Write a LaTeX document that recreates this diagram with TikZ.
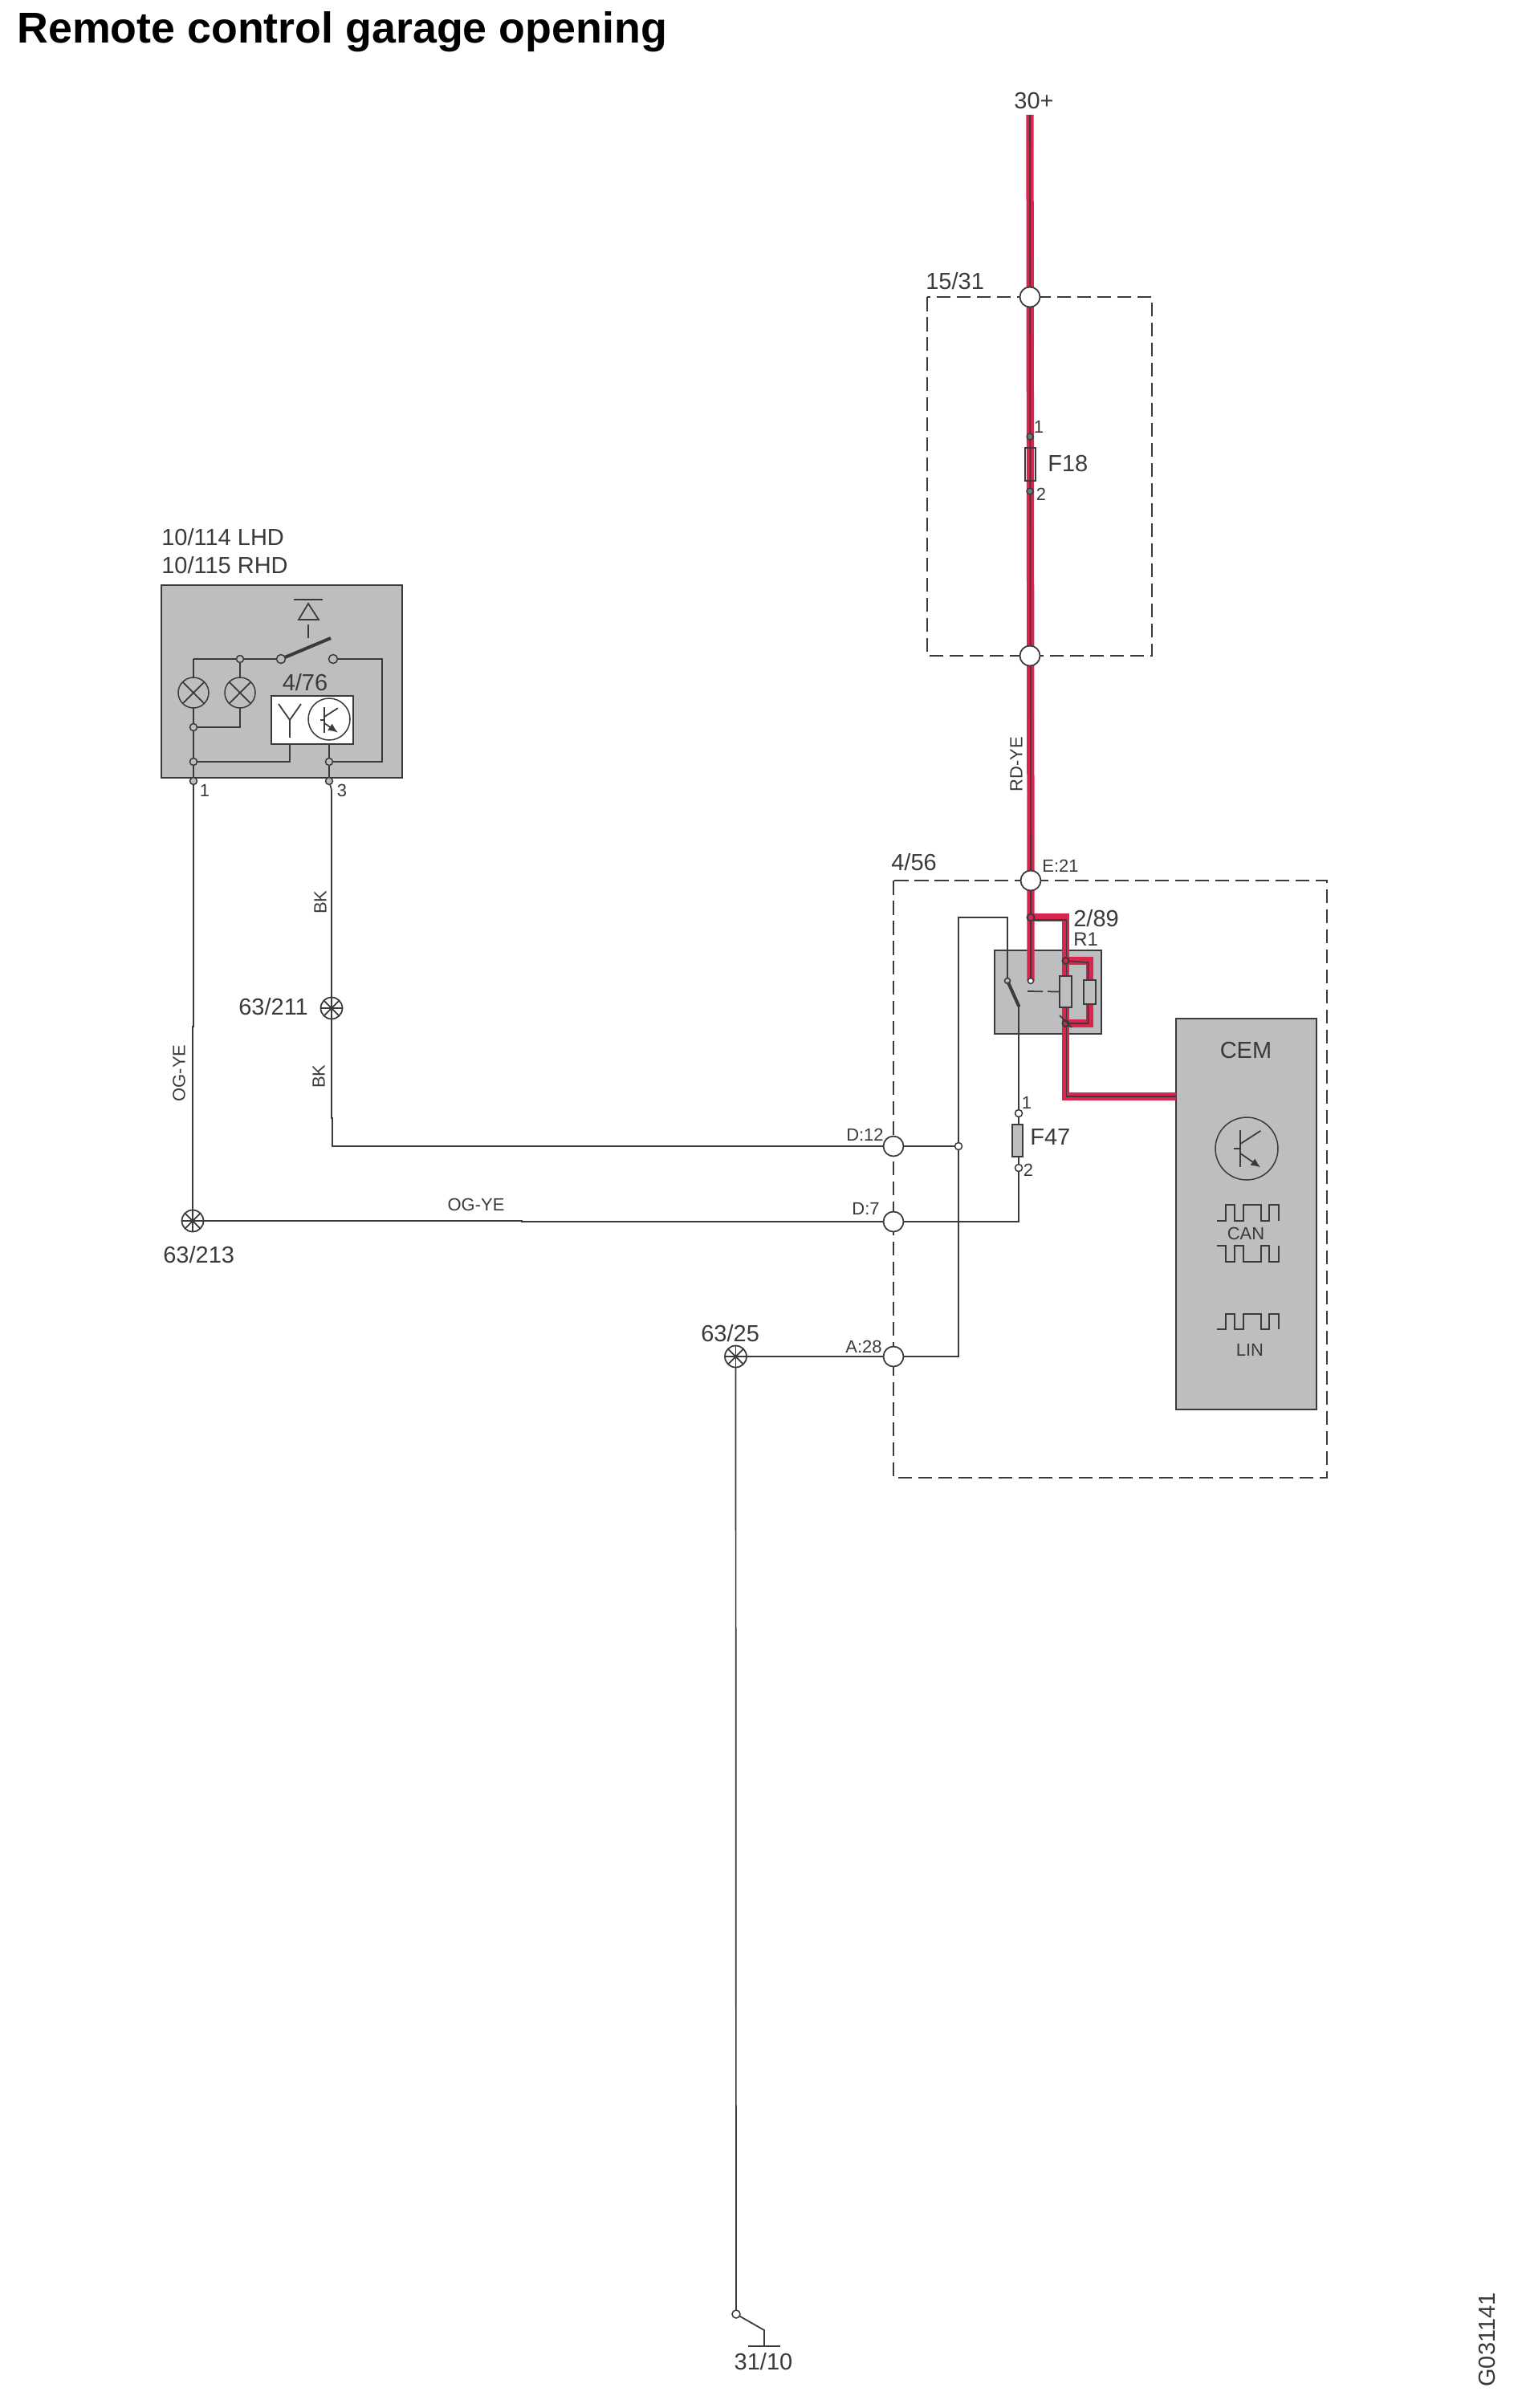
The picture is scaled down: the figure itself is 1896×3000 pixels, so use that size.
\documentclass[tikz,border=0pt]{standalone}
\usepackage{fontspec}
\setmainfont{Liberation Sans}
\usetikzlibrary{arrows.meta}
\definecolor{ink}{HTML}{3A3A3C}
\definecolor{boxgray}{HTML}{BCBEC0}
\definecolor{wirered}{HTML}{D8264F}
\pgfdeclarelayer{back}
\pgfdeclarelayer{wires}
\pgfsetlayers{back,wires,main}
\tikzset{
  wire/.style={draw=ink,line width=0.035cm},
  redwire/.style={draw=wirered,line width=0.185cm},
  corewire/.style={draw=ink,line width=0.032cm},
  thinwire/.style={draw=ink,line width=0.034cm},
  dashbox/.style={draw=ink,line width=0.038cm,dash pattern=on 0.35cm off 0.15cm},
  graybox/.style={draw=ink,fill=boxgray,line width=0.04cm,inner sep=0pt,outer sep=0pt},
  whitebox/.style={draw=ink,fill=white,line width=0.04cm,inner sep=0pt,outer sep=0pt},
  port/.style={circle,draw=ink,fill=white,line width=0.035cm,minimum size=0.5cm,inner sep=0pt,outer sep=0pt},
  pin/.style={circle,draw=ink,fill=white,line width=0.03cm,minimum size=0.18cm,inner sep=0pt,outer sep=0pt},
  tap/.style={circle,draw=ink,fill=boxgray,line width=0.03cm,minimum size=0.18cm,inner sep=0pt,outer sep=0pt},
  lampsym/.style={circle,draw=ink,fill=boxgray,line width=0.03cm,minimum size=0.76cm,inner sep=0pt,outer sep=0pt},
  star/.style={circle,draw=ink,fill=white,line width=0.035cm,minimum size=0.54cm,inner sep=0pt,outer sep=0pt},
  txtbig/.style={text=ink,inner sep=0pt,font=\fontsize{16.5}{17}\selectfont},
  txtmid/.style={text=ink,inner sep=0pt,font=\fontsize{13.6}{14}\selectfont},
  txtsmall/.style={text=ink,inner sep=0pt,font=\fontsize{12.5}{13}\selectfont},
}
% one square wave, #1 = low level, #2 = high level
\newcommand{\squarewave}[2]{
  \draw[wire] (1516,#1) -- (1527,#1) -- (1527,#2) -- (1538,#2) -- (1538,#1) -- (1549,#1) -- (1549,#2)
    -- (1571,#2) -- (1571,#1) -- (1581,#1) -- (1581,#2) -- (1593,#2) -- (1593,#1);
}
% transistor drawn inside a circle node
\newcommand{\transistor}[3]{
  \draw[wire] (#1,#2) ++(0,-0.6*#3) -- ++(0,1.2*#3);
  \draw[wire] (#1,#2) ++(-0.2*#3,0) -- ++(0.2*#3,0);
  \draw[wire] (#1,#2) ++(0,-0.15*#3) -- ++(0.65*#3,-0.42*#3);
  \draw[wire,-{Latex[length=0.24cm,width=0.2cm]}] (#1,#2) ++(0,0.15*#3) -- ++(0.65*#3,0.45*#3);
}
\begin{document}
\begin{tikzpicture}[x=0.02cm,y=-0.02cm]
\useasboundingbox (0,0) rectangle (1896,3000);

\node[anchor=base west,inner sep=0pt,text=black,font=\fontsize{30.6}{32}\selectfont\bfseries] (title) at (21,53) {Remote control garage opening};

% boxes
\begin{pgfonlayer}{back}
\draw[dashbox] (1155,370) rectangle (1435,817);
\draw[dashbox] (1113,1097) rectangle (1653,1841);
\node[graybox,minimum width=6cm,minimum height=4.8cm] (rcu) at (351,849) {};
\node[whitebox,minimum width=2.04cm,minimum height=1.2cm] (rx) at (389,897) {};
\node[graybox,minimum width=2.66cm,minimum height=2.08cm] (relay) at (1305,1236) {};
\node[graybox,minimum width=3.5cm,minimum height=9.74cm] (cem) at (1552.5,1512.5) {};
\end{pgfonlayer}

% supply side
\coordinate (top) at (1283,143);
\node[port] (p1531a) at (1283,370) {};
\node[port] (p1531b) at (1283,817) {};
\node[pin,fill=ink!70,minimum size=0.16cm] (f18a) at (1283,544) {};
\node[pin,fill=ink!70,minimum size=0.16cm] (f18b) at (1283,612) {};
\node[draw=ink,line width=0.04cm,minimum width=0.26cm,minimum height=0.82cm,inner sep=0pt] (f18) at (1283.5,578.5) {};
\node[port] (e21) at (1284,1097) {};
\node[pin,fill=wirered,line width=0.04cm,minimum size=0.18cm] (j1) at (1284,1143) {};
\node[pin,minimum size=0.14cm] (c1) at (1284,1222) {};

% relay
\node[tap,fill=wirered,line width=0.04cm,minimum size=0.16cm] (j2) at (1327.5,1197) {};
\node[tap,fill=wirered,line width=0.04cm,minimum size=0.16cm] (j3) at (1327.5,1275) {};
\node[graybox,minimum width=0.3cm,minimum height=0.78cm] (coil) at (1327.5,1235.5) {};
\node[graybox,minimum width=0.31cm,minimum height=0.6cm] (res) at (1357.5,1236) {};
\node[tap,minimum size=0.14cm] (c2) at (1255,1222) {};
\coordinate (c3) at (1269,1253);
\coordinate (b1) at (1327.5,1143);
\coordinate (b2) at (1327.5,1366);
\coordinate (b3) at (1357.5,1197);
\coordinate (b4) at (1357.5,1275);
\draw[wire] (coil.south west) ++(0,-0.2cm) -- ++(0.3cm,-0.3cm);
\draw[wire,dash pattern=on 0.38cm off 0.12cm] (1280,1235) -- (coil.west);
\draw[draw=ink,line width=0.08cm,line cap=round] (c2) -- (c3);

% fuse F47
\node[pin] (f47a) at (1269,1387) {};
\node[pin] (f47b) at (1269,1455) {};
\node[graybox,minimum width=0.26cm,minimum height=0.8cm] (f47) at (1267.5,1421) {};

% connector pins on 4/56
\node[port] (d12) at (1113,1428) {};
\node[port] (d7) at (1113,1522) {};
\node[port] (a28) at (1113,1690) {};
\node[pin] (j4) at (1194,1428) {};

% grounds
\node[star] (s211) at (413,1256) {};
\node[star] (s213) at (240,1521) {};
\node[star] (s25) at (916.5,1690) {};
\foreach \n in {s211,s213,s25}{
  \foreach \a/\b in {0/180,45/225,90/270,135/315}{
    \draw[wire] (\n.\a) -- (\n.\b);
  }
}
\node[pin,minimum size=0.2cm] (g1) at (917,2883) {};
\coordinate (g2) at (952,2903);
\coordinate (g3) at (952,2923);
\draw[wire,line width=0.04cm] (932,2923) -- (972,2923);

% remote unit
\node[lampsym] (l1) at (241,863) {};
\node[lampsym] (l2) at (299,863) {};
\foreach \n in {l1,l2}{
  \draw[wire] (\n.45) -- (\n.225);
  \draw[wire] (\n.135) -- (\n.315);
}
\node[tap] (r1) at (299,821) {};
\node[tap,minimum size=0.22cm] (r2) at (350,821) {};
\node[tap,minimum size=0.22cm] (r3) at (415,821) {};
\node[tap] (r4) at (241,906) {};
\node[tap] (r5) at (241,949) {};
\node[tap] (r6) at (410,949) {};
\node[tap] (pin1) at (241,973) {};
\node[tap] (pin3) at (410,973) {};
\draw[draw=ink,line width=0.08cm] (r2) -- (412,795);
\draw[wire] (384,778) -- (384,795);
\draw[wire] (384,752) -- (372,772) -- (397,772) -- cycle;
\draw[wire] (366,747) -- (402,747);
\node[circle,draw=ink,fill=white,line width=0.03cm,minimum size=1.04cm,inner sep=0pt] (tr1) at (410,896) {};
\transistor{404}{897}{26}
\draw[wire] (361,897) -- (347,877);
\draw[wire] (361,897) -- (375,877);
\draw[wire] (361,897) -- (361,919);
\node[circle,draw=ink,line width=0.03cm,minimum size=1.56cm,inner sep=0pt] (tr2) at (1553,1431) {};
\transistor{1545}{1431}{39}
\squarewave{1521}{1501}
\squarewave{1552}{1572}
\squarewave{1656}{1637}

% wires
\begin{pgfonlayer}{wires}
\foreach \st in {redwire,corewire}{
  \draw[\st] (top) -- (e21.center) -- (j1.center) -- (c1.center);
}
\draw[redwire] (j1.center) -- (b1) -- (b2) -- (b2 -| cem.west);
\draw[corewire] (1284,1146) -- (1328.5,1146) -- (1328.5,1366) -- (1465,1366);
\draw[redwire] (j2.center) -- (b3) -- (b4) -- (j3.center);
\draw[corewire] (j2.center) -- (1355.5,1199) -- (1355.5,1275) -- (j3.center);
\end{pgfonlayer}
\draw[wire] (rcu.north west |- r1) ++(40,0) -- (r1) -- (r2);
\draw[wire] (241,821) -- (l1);
\draw[wire] (r1) -- (l2);
\draw[wire] (l1) -- (r4);
\draw[wire] (r4) -- (r5) -- (pin1);
\draw[wire] (l2) -- (299,906) -- (r4);
\draw[wire] (r5) -- (361,949) -- (361,927);
\draw[wire] (410,927) -- (r6) -- (pin3);
\draw[wire] (r3) -- (476,821) -- (476,949) -- (r6);
\draw[thinwire] (pin1) -- (241,1279) -- (240,1279) -- (s213);
\draw[thinwire] (pin3) -- (413,984) -- (s211);
\draw[thinwire] (s211) -- (413,1393) -- (414,1393) -- (414,1428) -- (d12);
\draw[thinwire] (s213) -- (650,1521) -- (650,1522) -- (d7);
\draw[thinwire] (d7) -- (1269,1522) -- (f47b);
\draw[thinwire] (f47b) -- (f47.south -| f47b);
\draw[thinwire] (f47.north -| f47a) -- (f47a);
\draw[thinwire] (f47a) -- (c3);
\draw[thinwire] (d12) -- (j4);
\draw[thinwire] (j4) -- (1194,1143) -- (1255,1143) -- (c2);
\draw[thinwire] (a28) -- (1194,1690) -- (j4);
\draw[thinwire] (s25) -- (a28);
\draw[thinwire] (s25) -- (g1);
\draw[wire] (g1) -- (g2) -- (g3);

% labels
\node[txtbig,anchor=base] (l30) at (1288,135) {30+};
\node[txtbig,anchor=base west] (l1531) at (1153,360) {15/31};
\node[txtsmall,anchor=center] (lf1) at (1294,532) {1};
\node[txtsmall,anchor=center] (lf2) at (1297,616) {2};
\node[txtbig,anchor=west] (lf18) at (1305,578) {F18};
\node[txtsmall,rotate=90,anchor=center] (lrd) at (1266,952) {RD-YE};
\node[txtbig,anchor=base west] (l456) at (1110,1084) {4/56};
\node[txtsmall,anchor=base west] (le21) at (1298,1086) {E:21};
\node[txtbig,anchor=base west] (l289) at (1337,1154) {2/89};
\node[txtmid,anchor=base west] (lr1) at (1337,1178) {R1};
\node[txtsmall,anchor=center] (lp1) at (1279,1374) {1};
\node[txtsmall,anchor=center] (lp2) at (1281,1458) {2};
\node[txtbig,anchor=west] (lf47) at (1283,1417) {F47};
\node[txtbig,anchor=base] (lcem) at (1552,1318) {CEM};
\node[txtsmall,anchor=center] (lcan) at (1552,1537) {CAN};
\node[txtsmall,anchor=center] (llin) at (1557,1682) {LIN};
\node[txtsmall,anchor=base east] (ld12) at (1101,1421) {D:12};
\node[txtsmall,anchor=base east] (ld7) at (1096,1513) {D:7};
\node[txtsmall,anchor=base east] (la28) at (1099,1685) {A:28};
\node[txtbig,anchor=base west] (l25) at (873,1671) {63/25};
\node[txtbig,anchor=base] (l3110) at (951,2952) {31/10};
\node[txtbig,anchor=base west] (l114) at (201,679) {10/114 LHD};
\node[txtbig,anchor=base west] (l115) at (201,714) {10/115 RHD};
\node[txtbig,anchor=base] (l476) at (380,860) {4/76};
\node[txtsmall,anchor=center] (lt1) at (255,985) {1};
\node[txtsmall,anchor=center] (lt3) at (426,985) {3};
\node[txtsmall,rotate=90,anchor=center] (lbk1) at (399,1124) {BK};
\node[txtsmall,rotate=90,anchor=center] (lbk2) at (397,1341) {BK};
\node[txtsmall,rotate=90,anchor=center] (log1) at (223,1337) {OG-YE};
\node[txtsmall,anchor=center] (log2) at (593,1501) {OG-YE};
\node[txtbig,anchor=base west] (l211) at (297,1264) {63/211};
\node[txtbig,anchor=base west] (l213) at (203,1573) {63/213};
\node[txtbig,rotate=90,anchor=center] (lg) at (1853,2915) {G031141};
\end{tikzpicture}
\end{document}
